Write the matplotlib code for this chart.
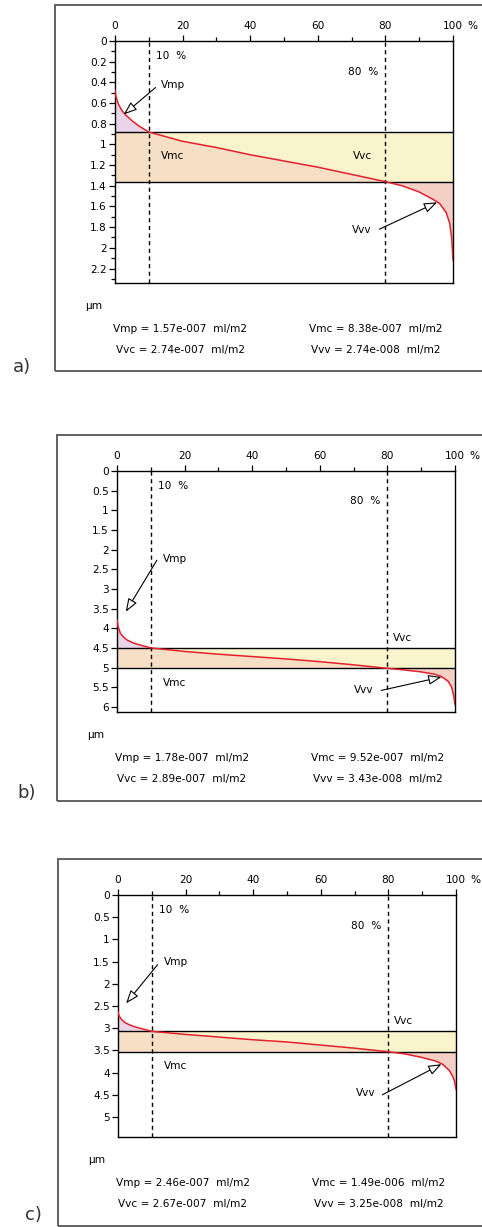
import numpy as np
import matplotlib
matplotlib.use("Agg")
import matplotlib.pyplot as plt
from matplotlib.patches import Rectangle

plt.rcParams['font.family'] = ['DejaVu Sans']

# ---- data: bearing (Abbott-Firestone) curves, x = bearing ratio %, y = depth um ----
a_x = [0, 0.3, 1, 2, 3, 5, 7, 10, 20, 30, 40, 50, 60, 70, 80, 85, 90, 94, 96, 98, 99, 99.6, 100]
a_depth = [0.48, 0.54, 0.61, 0.67, 0.71, 0.77, 0.82, 0.88, 0.97, 1.03, 1.10, 1.16, 1.22, 1.29,
           1.36, 1.40, 1.46, 1.53, 1.57, 1.66, 1.76, 1.90, 2.12]
b_x = [0, 0.3, 1, 2, 3, 5, 7, 10, 20, 30, 40, 50, 60, 70, 80, 85, 90, 94, 96, 98, 99, 99.6, 100]
b_depth = [3.78, 3.95, 4.13, 4.23, 4.30, 4.38, 4.43, 4.50, 4.59, 4.66, 4.72, 4.78, 4.85, 4.93,
           5.02, 5.06, 5.11, 5.17, 5.23, 5.35, 5.50, 5.70, 5.94]
c_x = [0, 0.3, 1, 2, 3, 5, 7, 10, 20, 30, 40, 50, 60, 70, 80, 85, 90, 94, 96, 98, 99, 99.6, 100]
c_depth = [2.63, 2.72, 2.80, 2.87, 2.91, 2.97, 3.01, 3.07, 3.14, 3.20, 3.26, 3.31, 3.38, 3.45,
           3.53, 3.58, 3.66, 3.74, 3.81, 3.95, 4.08, 4.20, 4.38]

# depths at 10 % and 80 % material ratio
a_levels = [0.88, 1.36]
b_levels = [4.51, 5.02]
c_levels = [3.07, 3.53]

a_values = ["Vmp = 1.57e-007  ml/m2", "Vmc = 8.38e-007  ml/m2",
            "Vvc = 2.74e-007  ml/m2", "Vvv = 2.74e-008  ml/m2"]
b_values = ["Vmp = 1.78e-007  ml/m2", "Vmc = 9.52e-007  ml/m2",
            "Vvc = 2.89e-007  ml/m2", "Vvv = 3.43e-008  ml/m2"]
c_values = ["Vmp = 2.46e-007  ml/m2", "Vmc = 1.49e-006  ml/m2",
            "Vvc = 2.67e-007  ml/m2", "Vvv = 3.25e-008  ml/m2"]

x_ticks = [0, 20, 40, 60, 80, 100]
x_ticklabels = ["0", "20", "40", "60", "80", "100"]

W, H = 482, 1227
fig = plt.figure(figsize=(W / 100, H / 100), dpi=100)


def fx(px):
    return px / W


def fy(py):
    return 1 - py / H


# panel settings (pixel layout)
panels = [
    dict(x=a_x, d=a_depth, lv=a_levels, vals=a_values, name="a)",
         ax=(115, 41, 338, 242), frame=(55, 5, 371), lab=(22, 367),
         ymax=2.34, ystep=0.2, yminor=0.1, ylast=2.2,
         t10=(12.2, 0.145), t80=(68.9, 0.30),
         vmp=(13.7, 0.43), vmp_arrow=((12, 0.45), (2.6, 0.71)),
         vmc=(13.7, 1.11), vvc=(70.3, 1.11),
         vvv=(70, 1.83), vvv_arrow=((78.2, 1.82), (95.3, 1.56))),
    dict(x=b_x, d=b_depth, lv=b_levels, vals=b_values, name="b)",
         ax=(117, 471, 338, 241), frame=(57, 435, 801), lab=(27, 793),
         ymax=6.13, ystep=0.5, yminor=None, ylast=6.0,
         t10=(12.1, 0.38), t80=(68.8, 0.77),
         vmp=(13.6, 2.24), vmp_arrow=((11.8, 2.27), (2.6, 3.58)),
         vmc=(13.6, 5.39), vvc=(81.7, 4.24),
         vvv=(70.1, 5.56), vvv_arrow=((78.2, 5.58), (96, 5.24))),
    dict(x=c_x, d=c_depth, lv=c_levels, vals=c_values, name="c)",
         ax=(118, 895, 338, 242), frame=(58, 859, 1226), lab=(33, 1215),
         ymax=5.45, ystep=0.5, yminor=None, ylast=5.0,
         t10=(12.2, 0.33), t80=(69, 0.69),
         vmp=(13.7, 1.52), vmp_arrow=((11.7, 1.57), (2.4, 2.44)),
         vmc=(13.5, 3.85), vvc=(81.6, 2.83),
         vvv=(70.3, 4.47), vvv_arrow=((78.2, 4.50), (95.7, 3.81))),
]

fs = 7.6
for p in panels:
    left, top, w, h = p["ax"]
    ax = fig.add_axes([fx(left), fy(top + h), fx(w), h / H])
    x = np.array(p["x"])
    d = np.array(p["d"])
    up, lo = p["lv"]

    # fills
    ax.fill_between([0, 100], up, lo, color="#f9f4cb", lw=0, zorder=1)
    m = x <= 80
    ax.fill_between(x[m], np.clip(d[m], up, lo), lo, color="#f7dfc6", lw=0, zorder=2)
    m = x <= 10
    ax.fill_between(x[m], d[m], up, color="#ead5e8", lw=0, zorder=2)
    m = x >= 80
    ax.fill_between(x[m], lo, d[m], color="#f3cfc4", lw=0, zorder=2)

    ax.axhline(up, color="black", lw=1.0, zorder=3)
    ax.axhline(lo, color="black", lw=1.0, zorder=3)
    ax.axvline(10, color="black", lw=1.0, ls=(0, (3, 2.5)), zorder=3)
    ax.axvline(80, color="black", lw=1.0, ls=(0, (3, 2.5)), zorder=3)
    ax.plot(x, d, color="#e3202c", lw=1.1, zorder=4)

    ax.set_xlim(0, 100)
    ax.set_ylim(p["ymax"], 0)

    ax.xaxis.tick_top()
    ax.set_xticks(x_ticks)
    ax.set_xticklabels(x_ticklabels)
    ax.set_xticks(np.arange(10, 100, 20), minor=True)
    yt = np.arange(0, p["ylast"] + 1e-6, p["ystep"])
    ax.set_yticks(yt)
    ax.set_yticklabels(["%g" % v for v in yt])
    if p["yminor"]:
        ax.set_yticks(np.arange(p["yminor"], p["ymax"], p["ystep"]), minor=True)
    ax.tick_params(which="both", direction="out", labelsize=fs, width=0.9, pad=2)
    ax.tick_params(which="major", length=4)
    ax.tick_params(which="minor", length=3)
    ax.tick_params(axis="x", pad=3)
    for s in ax.spines.values():
        s.set_linewidth(1.0)
    # "%" after the 100 tick label, same height as the tick labels
    ax.text(1.058, 1 + 9.7 / h, "%", transform=ax.transAxes, fontsize=fs,
            ha="center", va="bottom")

    ax.text(*p["t10"], "10  %", fontsize=fs, va="center", zorder=5)
    ax.text(*p["t80"], "80  %", fontsize=fs, va="center", zorder=5)
    ax.text(*p["vmp"], "Vmp", fontsize=fs, va="center", zorder=5)
    ax.text(*p["vmc"], "Vmc", fontsize=fs, va="center", zorder=5)
    ax.text(*p["vvc"], "Vvc", fontsize=fs, va="center", zorder=5)
    ax.text(*p["vvv"], "Vvv", fontsize=fs, va="center", zorder=5)
    for tail, head in (p["vmp_arrow"], p["vvv_arrow"]):
        ax.annotate("", xy=head, xytext=tail, zorder=6,
                    arrowprops=dict(arrowstyle="-|>,head_length=0.8,head_width=0.3",
                                    fc="white", ec="black", lw=0.8,
                                    shrinkA=0, shrinkB=0))

    # unit and volume results under the plot
    bottom = top + h
    fig.text(fx(left - 21), fy(bottom + 23), "µm", fontsize=fs, ha="center", va="center")
    fig.text(fx(left + 65), fy(bottom + 46), p["vals"][0], fontsize=fs, ha="center", va="center")
    fig.text(fx(left + 261), fy(bottom + 46), p["vals"][1], fontsize=fs, ha="center", va="center")
    fig.text(fx(left + 65), fy(bottom + 67), p["vals"][2], fontsize=fs, ha="center", va="center")
    fig.text(fx(left + 261), fy(bottom + 67), p["vals"][3], fontsize=fs, ha="center", va="center")

    # frame around each panel and panel letter
    fl, ft, fb = p["frame"]
    fig.patches.append(Rectangle((fx(fl), fy(fb)), fx(W + 10 - fl), (fb - ft) / H,
                                 transform=fig.transFigure, fill=False,
                                 ec="#555555", lw=1.3))
    fig.text(fx(p["lab"][0]), fy(p["lab"][1]), p["name"], fontsize=13,
             ha="center", va="center", color="#333333")

fig.savefig("out.png", dpi=100)
